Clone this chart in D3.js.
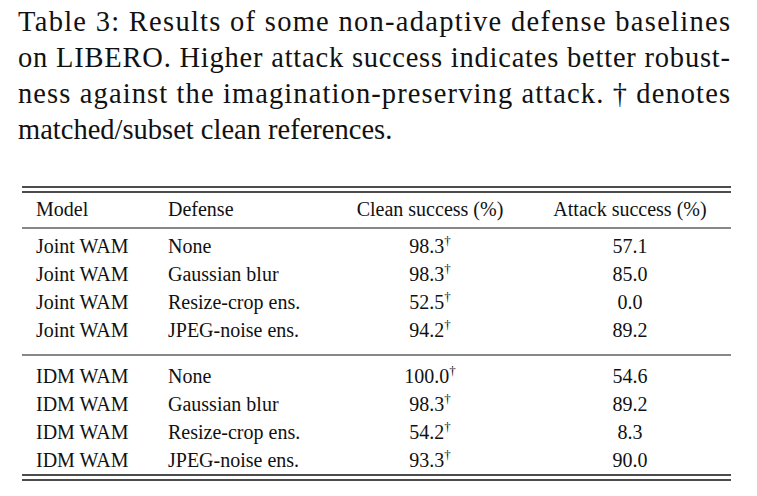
<!DOCTYPE html>
<html><head><meta charset="utf-8">
<script src="https://cdn.jsdelivr.net/npm/d3@7"></script>
<style>body{margin:0;background:#fff}svg{font-family:"Liberation Serif","DejaVu Serif",serif}</style>
</head><body><svg id="t" width="757" height="496"></svg>
<script>
const captionLines = [
  "Table 3:  Results of some non-adaptive defense baselines",
  "on LIBERO. Higher attack success indicates better robust-",
  "ness against the imagination-preserving attack.  \u2020 denotes",
  "matched/subset clean references."
];
const headers = ["Model", "Defense", "Clean success (%)", "Attack success (%)"];
const models = ["Joint WAM","Joint WAM","Joint WAM","Joint WAM","IDM WAM","IDM WAM","IDM WAM","IDM WAM"];
const defenses = ["None","Gaussian blur","Resize-crop ens.","JPEG-noise ens.","None","Gaussian blur","Resize-crop ens.","JPEG-noise ens."];
const cleanSuccess = [98.3, 98.3, 52.5, 94.2, 100.0, 98.3, 54.2, 93.3];
const attackSuccess = [57.1, 85.0, 0.0, 89.2, 54.6, 89.2, 8.3, 90.0];

const svg = d3.select("#t");
const L = 22, R = 731;

// caption
svg.selectAll(".cap").data(captionLines).enter().append("text")
  .attr("class", "cap")
  .attr("x", 18).attr("y", (d, i) => 31 + i * 36)
  .attr("font-size", 28.5).attr("fill", "#111")
  .attr("textLength", (d, i) => i === 3 ? null : 712)
  .attr("lengthAdjust", "spacing")
  .text(d => d);

// column anchors
const colX = [36, 168, 430, 630];
const colAnchor = ["start", "start", "middle", "middle"];

function rule(y, w) {
  svg.append("line").attr("x1", L).attr("x2", R).attr("y1", y).attr("y2", y)
    .attr("stroke", "#111").attr("stroke-width", w);
}
rule(187, 1.4); rule(192, 1.4);
rule(228, 1);
rule(355, 1);
rule(475, 1.4); rule(480, 1.4);

svg.selectAll(".hd").data(headers).enter().append("text")
  .attr("x", (d, i) => colX[i]).attr("y", 216)
  .attr("text-anchor", (d, i) => colAnchor[i])
  .attr("font-size", 20).attr("fill", "#111").text(d => d);

const rowY = d3.scalePoint().domain(d3.range(4)).range([253, 337]);
const rows = models.map((m, i) => ({m, d: defenses[i], c: cleanSuccess[i], a: attackSuccess[i], i}));
const yOf = r => r.i < 4 ? rowY(r.i) : rowY(r.i - 4) + 130;

const g = svg.selectAll(".row").data(rows).enter().append("g")
  .attr("transform", r => `translate(0,${yOf(r)})`);
g.append("text").attr("x", colX[0]).attr("font-size", 20).attr("fill", "#111").text(r => r.m);
g.append("text").attr("x", colX[1]).attr("font-size", 20).attr("fill", "#111").text(r => r.d);
const ct = g.append("text").attr("x", colX[2]).attr("text-anchor", "middle").attr("font-size", 20).attr("fill", "#111");
ct.append("tspan").text(r => r.c.toFixed(1));
ct.append("tspan").attr("dy", -8).attr("font-size", 13).text("\u2020");
g.append("text").attr("x", colX[3]).attr("text-anchor", "middle").attr("font-size", 20).attr("fill", "#111")
  .text(r => r.a.toFixed(1));
</script></body></html>
